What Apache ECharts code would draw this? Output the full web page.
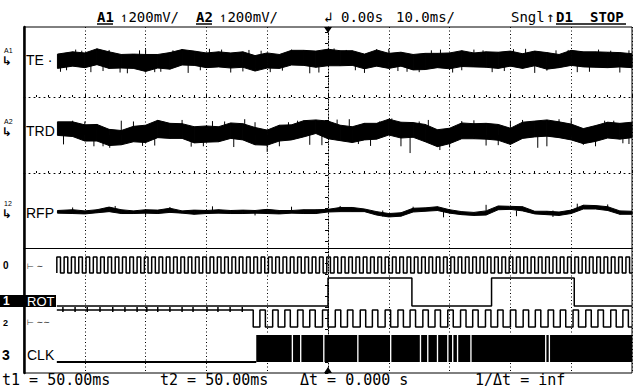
<!DOCTYPE html>
<html>
<head>
<meta charset="utf-8">
<script src="https://cdn.jsdelivr.net/npm/echarts@6/dist/echarts.min.js"></script>
<style>
  html, body { margin: 0; padding: 0; background: #fff; }
  #chart { width: 634px; height: 388px; }
</style>
</head>
<body>
<div id="chart"></div>
<script>
// Scope capture: 10 ms/div, trigger at 0 (rising edge of D1 / ROT)

// Analog envelope sample times (ms) and min/max readings (mV from screen centre of each lane)
const sampleMs = [-44.5,-42,-40,-38,-36,-34,-32,-30,-28,-26,-24,-22,-20,-18,-16,-14,-12,-10,-8,-6,-4,-2,0,2,4,6,8,10,12,14,16,18,20,22,24,26,28,30,32,34,36,38,40,42,44,46,48,50];

const teHi = [21,27,24,35,27,20,21,20,20,25,33,29,24,27,24,27,17,24,20,31,31,29,34,30,30,21,32,23,26,20,23,23,24,30,24,27,26,29,22,29,25,20,31,27,27,26,25,22];
const teLo = [-17,-11,-15,-7,-17,-16,-17,-25,-16,-19,-8,-9,-15,-13,-16,-14,-24,-16,-17,-8,-9,-14,-10,-10,-9,-18,-11,-17,-11,-21,-20,-15,-18,-12,-13,-14,-17,-11,-17,-10,-19,-15,-9,-13,-14,-15,-13,-15];

const trdHi = [35,35,27,28,15,12,23,26,39,31,30,22,24,22,32,30,20,13,26,27,38,40,37,26,22,31,31,42,34,33,28,14,18,32,30,31,28,18,34,37,40,35,29,17,25,34,31,34];
const trdLo = [-1,-4,-16,-16,-28,-26,-18,-20,-7,-9,-9,-21,-19,-18,-9,-13,-26,-27,-16,-13,-5,4,-10,-15,-20,-13,-11,0,-8,-6,-18,-31,-23,-10,-10,-11,-14,-25,-9,-5,-3,-7,-13,-23,-17,-8,-11,-7];

const rfpHi = [0,2,-1,2,9,2,-1,2,1,6,-1,1,0,2,0,1,0,3,0,0,2,2,3,8,8,4,-3,-8,-6,6,7,10,2,-3,-5,-1,12,11,10,-2,-2,-4,1,14,13,10,-1,-2];
const rfpLo = [-7,-8,-9,-6,-3,-8,-8,-7,-8,-5,-7,-10,-8,-7,-8,-8,-7,-8,-9,-7,-8,-8,-4,-3,-3,-3,-12,-17,-15,-4,-2,0,-7,-11,-13,-12,2,3,-1,-9,-11,-13,-8,4,4,0,-10,-10];

// isolated noise spikes [ms, mV]
const teSpikes = [[-44,-26],[-43,-22],[-41.5,33],[-40.5,30],[-39,-27],[-37,-24],[-36,32],[-34.2,-28],[-33,-30],[-31,31],[-30,34],[-28.5,-27],[-27.5,-26],[-25.5,31],[-24,34],[-23,-29],[-21,-22],[-19.5,35],[-17.5,33],[-16,-28],[-14,-25],[-13,32],[-11,30],[-9.5,-27],[-7.5,-23],[-6,33],[-3,-30],[-1.5,-28],[1,36],[3,32],[4.5,-22],[6,-29],[8,34],[10,35],[11.5,-24],[13,-26],[15,-27],[17,31],[18.5,33],[20.5,-28],[22,-22],[24,33],[25.5,31],[27,-27],[29,-24],[30.5,34],[32.5,35],[34,-29],[36,-23],[37.5,31],[39.5,32],[41,-27],[43,-26],[44.5,33],[46.5,30],[48,-28],[49.5,31]];
const trdSpikes = [[-43.5,-25],[-42,38],[-40,36],[-38.5,-30],[-37,-30],[-35.9,-34],[-34,38],[-32,36],[-30.5,-29],[-28.5,-28],[-27,35],[-24,40],[-22.5,-31],[-20.5,-30],[-19,37],[-17,36],[-15.5,-32],[-13.7,42],[-12,34],[-10,-45],[-8,-30],[-6.5,34],[-5,38],[-3,-26],[-1,-27],[1.5,41],[3.5,42],[5,-24],[7,-29],[8.5,36],[10.5,44],[12,-30],[13.5,-48],[15,36],[16.5,40],[18.4,-40],[20,-33],[22,37],[24,39],[26,-28],[28,-27],[30,38],[32,40],[34.5,-34],[36,-30],[38,42],[40,44],[42,-26],[44,-30],[45.5,38],[47,38],[48.5,-22],[49.5,-24]];
const rfpSpikes = [[-42,8],[-35,12],[-30,-14],[-26,9],[-19,11],[-12,-13],[-6,10],[2,12],[9,-16],[14,10],[19,-18],[26,15],[31,-15],[37,-17],[41,18],[46,16]];

// Digital channels (edge times in ms)
const traceStartMs = -44.6;
const d0Rises = [-44.6,-43.4,-42.2,-41.0,-39.8,-38.6,-37.4,-36.2,-35.0,-33.8,-32.6,-31.4,-30.2,-29.0,-27.8,-26.6,-25.4,-24.2,-23.0,-21.8,-20.6,-19.4,-18.2,-17.0,-15.8,-14.6,-13.4,-12.2,-11.0,-9.8,-8.6,-7.4,-6.2,-5.0,-3.8,-2.6,-1.4,-0.2,1.0,2.2,3.4,4.6,5.8,7.0,8.2,9.4,10.6,11.8,13.0,14.2,15.4,16.6,17.8,19.0,20.2,21.4,22.6,23.8,25.0,26.2,27.4,28.6,29.8,31.0,32.2,33.4,34.6,35.8,37.0,38.2,39.4,40.6,41.8,43.0,44.2,45.4,46.6,47.8,49.0];
const d0HighMs = 0.6;
const rotEdges = [0, 13.8, 26.9, 40.5];
const d2FallMs = -12.3;
const d2Ticks = [-43.6,-41.6,-39.6,-37.5,-35.4,-33.4,-31.4,-29.8,-28,-26,-24,-22.2,-19.9,-18.1,-16.1,-14.1];
const d2Rises = [-11.2,-9.1,-7.1,-5.0,-3.0,-0.9,1.2,3.2,5.3,7.3,9.4,11.5,13.5,15.6,17.6,19.7,21.8,23.8,25.9,27.9,30.0,32.1,34.1,36.2,38.2,40.3,42.4,44.4,46.5,48.5];
const d2HighMs = 0.9;
const clkRiseMs = -11.8;
const clkGaps = [-5.97,-4.6,-0.8,4.8,10.2,15.1,16.3,17.9,19.6,20.4,21.2,23.4,35.7,36.3];
const clkGapMs = 0.22;

// readouts
const headerItems = [
  { text: 'A1', x: 97, bold: true },
  { text: '↿200mV/', x: 120 },
  { text: 'A2', x: 196, bold: true },
  { text: '↿200mV/', x: 219 },
  { text: '↲', x: 324 },
  { text: '0.00s', x: 341 },
  { text: '10.0ms/', x: 396 },
  { text: 'Sngl', x: 511 },
  { text: '↑', x: 546 },
  { text: 'D1', x: 556, bold: true },
  { text: 'STOP', x: 590, bold: true }
];
const footerItems = [
  { text: 't1 = 50.00ms', x: 2 },
  { text: 't2 = 50.00ms', x: 160 },
  { text: 'Δt = 0.000 s', x: 300 },
  { text: '1/Δt = inf', x: 475 }
];

// display levels of the digital lanes inside the logic grid (0..125)
const lane = { d0: [100, 116], rot: [67, 95], d2: [46, 63], clk: [11, 38] };
const MONO = '"DejaVu Sans Mono", "Liberation Mono", monospace';
const SANS = '"Liberation Sans", Arial, sans-serif';

function bandSegments(hi, lo) {
  const out = [];
  for (let i = 0; i < sampleMs.length - 1; i++) {
    out.push([sampleMs[i], lo[i], hi[i], sampleMs[i + 1], lo[i + 1], hi[i + 1]]);
  }
  return out;
}

function renderBand(params, api) {
  const p1 = api.coord([api.value(0), api.value(2)]);
  const p2 = api.coord([api.value(3), api.value(5)]);
  const p3 = api.coord([api.value(3), api.value(4)]);
  const p4 = api.coord([api.value(0), api.value(1)]);
  return { type: 'polygon', shape: { points: [p1, p2, p3, p4] }, style: { fill: '#000', stroke: '#000', lineWidth: 1 } };
}

function renderSpike(params, api) {
  const a = api.coord([api.value(0), 0]);
  const b = api.coord([api.value(0), api.value(1)]);
  return { type: 'line', shape: { x1: a[0], y1: a[1], x2: b[0], y2: b[1] }, style: { stroke: '#000', lineWidth: 1 } };
}

function renderBlock(params, api) {
  const a = api.coord([api.value(0), lane.clk[1]]);
  const b = api.coord([api.value(1), lane.clk[0]]);
  return { type: 'rect', shape: { x: a[0], y: a[1], width: b[0] - a[0], height: b[1] - a[1] }, style: { fill: '#000' } };
}

function renderTick(params, api) {
  const a = api.coord([api.value(0), lane.d2[1] - 2]);
  const b = api.coord([api.value(0), lane.d2[1] + 3]);
  return { type: 'line', shape: { x1: a[0], y1: a[1], x2: b[0], y2: b[1] }, style: { stroke: '#000', lineWidth: 1.5 } };
}

function pulseTrain(rises, width, lvl, start, startLevel) {
  const pts = [[start, startLevel]];
  rises.forEach(r => {
    const f = Math.min(r + width, 50);
    pts.push([r, lvl[0]], [r, lvl[1]], [f, lvl[1]], [f, lvl[0]]);
  });
  pts.push([50, lvl[0]]);
  return pts;
}

function rotPoints() {
  let level = 0;
  const pts = [[traceStartMs, lane.rot[0]]];
  rotEdges.forEach(t => {
    pts.push([t, lane.rot[level]]);
    level = 1 - level;
    pts.push([t, lane.rot[level]]);
  });
  pts.push([50, lane.rot[level]]);
  return pts;
}

function clkBlocks() {
  const out = [];
  let cur = clkRiseMs;
  clkGaps.forEach(g => { out.push([cur, g]); cur = g + clkGapMs; });
  out.push([cur, 50]);
  return out;
}

const chart = echarts.init(document.getElementById('chart'), null, { renderer: 'svg' });

const left = 24, width = 608;
const gridTops = [27, 97, 173, 248], gridHeights = [70, 76, 75, 125];

const dotted = [1, 4];
function laneX(gridIndex, lineShow, lineType) {
  return {
    type: 'value', gridIndex, min: -50, max: 50, interval: 10,
    axisLabel: { show: false }, splitLine: { show: false },
    axisLine: { show: lineShow, onZero: false, lineStyle: { color: '#000', width: 1, type: lineType } },
    axisTick: { show: lineShow && lineType !== 'solid', inside: true, length: 3, lineStyle: { color: '#000' } },
    minorTick: { show: lineShow && lineType !== 'solid', splitNumber: 5, length: 2, lineStyle: { color: '#000' } }
  };
}
function laneY(gridIndex, min, max) {
  return {
    type: 'value', gridIndex, min, max,
    axisLabel: { show: false }, splitLine: { show: false }, axisTick: { show: false },
    axisLine: { show: false }
  };
}

const lineBase = { type: 'line', showSymbol: false, symbol: 'none', animation: false, xAxisIndex: 4, yAxisIndex: 5, lineStyle: { color: '#000', width: 1.5 } };

const graphics = [];
headerItems.forEach(h => graphics.push({
  type: 'text', x: h.x, y: 17,
  style: { text: h.text, fill: '#000', font: (h.bold ? 'bold ' : '') + '14px ' + MONO, textVerticalAlign: 'middle', verticalAlign: 'middle' }
}));
[[97, 113], [196, 212], [556, 626]].forEach(u => graphics.push({
  type: 'line', shape: { x1: u[0], y1: 24, x2: u[1], y2: 24 }, style: { stroke: '#000', lineWidth: 1.5 }
}));
footerItems.forEach(f => graphics.push({
  type: 'text', x: f.x, y: 380,
  style: { text: f.text, fill: '#000', font: '15px ' + MONO, textVerticalAlign: 'middle', verticalAlign: 'middle' }
}));
// channel labels
[['TE ·', 60, 'A1'], ['TRD', 131, 'A2'], ['RFP', 213, '12']].forEach(l => {
  graphics.push({ type: 'text', x: 26, y: l[1], style: { text: l[0], fill: '#000', font: '14px ' + SANS, textVerticalAlign: 'middle', verticalAlign: 'middle' } });
  graphics.push({ type: 'text', x: 4, y: l[1] - 10, style: { text: l[2], fill: '#000', font: '7px ' + SANS, textVerticalAlign: 'middle', verticalAlign: 'middle' } });
  graphics.push({ type: 'text', x: 2, y: l[1] + 1, style: { text: '↳', fill: '#000', font: 'bold 12px "DejaVu Sans"', textVerticalAlign: 'middle', verticalAlign: 'middle' } });
});
graphics.push({ type: 'rect', shape: { x: 0, y: 295, width: 56, height: 12 }, style: { fill: '#000' } });
[
  ['0', 3, 265, 'bold 10px ' + SANS, '#000'],
  ['⊢ ∼', 27, 266, '8px "DejaVu Sans"', '#333'],
  ['1', 3, 301, 'bold 12px ' + SANS, '#fff'],
  ['ROT', 27, 301, '13px ' + SANS, '#fff'],
  ['2', 3, 323, 'bold 9px ' + SANS, '#000'],
  ['⊢ ∼∼', 27, 322, '8px "DejaVu Sans"', '#333'],
  ['3', 2, 355, 'bold 14px ' + SANS, '#000'],
  ['CLK', 27, 355, '14px ' + SANS, '#000']
].forEach(l => graphics.push({
  type: 'text', x: l[1], y: l[2],
  style: { text: l[0], fill: l[4], font: l[3], textVerticalAlign: 'middle', verticalAlign: 'middle' }
}));

chart.setOption({
  animation: false,
  backgroundColor: '#fff',
  grid: [
    { left, width, top: 27, height: 346, show: true, borderColor: '#000', borderWidth: 1, backgroundColor: 'transparent' },
    ...gridTops.map((t, i) => ({ left, width, top: t, height: gridHeights[i] }))
  ],
  xAxis: [
    {
      type: 'value', gridIndex: 0, min: -50, max: 50, interval: 10,
      axisLabel: { show: false }, axisTick: { show: false }, axisLine: { show: false },
      splitLine: { show: true, lineStyle: { color: '#000', width: 1, type: [1, 2.5] } }
    },
    laneX(1, true, dotted),
    laneX(2, true, dotted),
    laneX(3, true, 'solid'),
    laneX(4, false, 'solid')
  ],
  yAxis: [
    {
      type: 'value', gridIndex: 0, min: 0, max: 346, interval: 11,
      axisLabel: { show: false }, splitLine: { show: false },
      axisLine: { show: true, onZero: true, lineStyle: { color: '#000', width: 1, type: [1, 2] } },
      axisTick: { show: true, length: 3, lineStyle: { color: '#000' } }
    },
    {
      type: 'value', gridIndex: 0, min: 0, max: 346, position: 'left',
      axisLabel: { show: false }, splitLine: { show: false }, axisTick: { show: false },
      axisLine: { show: true, onZero: false, lineStyle: { color: '#000', width: 2.5 } }
    },
    laneY(1, -93, 93),
    laneY(2, -101, 101),
    laneY(3, -99, 99),
    laneY(4, 0, 125)
  ],
  graphic: { elements: graphics },
  series: [
    { type: 'custom', xAxisIndex: 1, yAxisIndex: 2, renderItem: renderBand, data: bandSegments(teHi, teLo), encode: { x: [0, 3], y: [1, 2, 4, 5] }, z: 3 },
    { type: 'custom', xAxisIndex: 1, yAxisIndex: 2, renderItem: renderSpike, data: teSpikes, z: 3 },
    { type: 'custom', xAxisIndex: 2, yAxisIndex: 3, renderItem: renderBand, data: bandSegments(trdHi, trdLo), encode: { x: [0, 3], y: [1, 2, 4, 5] }, z: 3 },
    { type: 'custom', xAxisIndex: 2, yAxisIndex: 3, renderItem: renderSpike, data: trdSpikes, z: 3 },
    { type: 'custom', xAxisIndex: 3, yAxisIndex: 4, renderItem: renderBand, data: bandSegments(rfpHi, rfpLo), encode: { x: [0, 3], y: [1, 2, 4, 5] }, z: 3 },
    { type: 'custom', xAxisIndex: 3, yAxisIndex: 4, renderItem: renderSpike, data: rfpSpikes, z: 3 },
    Object.assign({}, lineBase, { name: 'D0', data: pulseTrain(d0Rises, d0HighMs, lane.d0, traceStartMs, lane.d0[0]) }),
    Object.assign({}, lineBase, { name: 'ROT', data: rotPoints() }),
    Object.assign({}, lineBase, { name: 'D2', data: [[traceStartMs, lane.d2[1]], [d2FallMs, lane.d2[1]]].concat(pulseTrain(d2Rises, d2HighMs, lane.d2, d2FallMs, lane.d2[0])) }),
    { type: 'custom', xAxisIndex: 4, yAxisIndex: 5, renderItem: renderTick, data: d2Ticks.map(t => [t]), encode: { x: 0 }, z: 3 },
    Object.assign({}, lineBase, { name: 'CLK', lineStyle: { color: '#000', width: 2 }, data: [[traceStartMs, lane.clk[0]], [clkRiseMs, lane.clk[0]]] }),
    { type: 'custom', xAxisIndex: 4, yAxisIndex: 5, renderItem: renderBlock, data: clkBlocks(), encode: { x: [0, 1] }, z: 3 },
    {
      type: 'custom', xAxisIndex: 0, yAxisIndex: 0, data: [[0, 346, 1], [0, 0, -1]], z: 4,
      renderItem: (params, api) => {
        const p = api.coord([api.value(0), api.value(1)]);
        const d = api.value(2);
        return { type: 'polygon', shape: { points: [[p[0] - 4, p[1]], [p[0] + 4, p[1]], [p[0], p[1] + 6 * d]] }, style: { fill: '#000' } };
      }
    }
  ]
});
</script>
</body>
</html>
